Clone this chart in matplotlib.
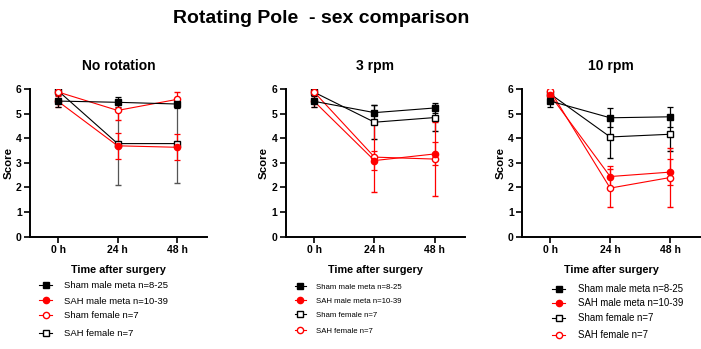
import numpy as np
import matplotlib.pyplot as plt
from matplotlib.lines import Line2D

plt.rcParams['font.family'] = ['Liberation Sans', 'DejaVu Sans']

# Time points and panel names
times = ['0 h', '24 h', '48 h']
panels = ['No rotation', '3 rpm', '10 rpm']

# Mean scores and SEM per panel (0 h, 24 h, 48 h)
sham_male = [[5.51, 5.46, 5.39], [5.50, 5.04, 5.23], [5.51, 4.83, 4.87]]
sham_male_err = [[0.23, 0.20, 0.15], [0.23, 0.30, 0.22], [0.23, 0.38, 0.40]]
sah_male = [[5.50, 3.69, 3.63], [5.50, 3.09, 3.36], [5.75, 2.44, 2.62]]
sah_male_err = [[0.23, 0.52, 0.53], [0.23, 0.38, 0.47], [0.22, 0.41, 0.52]]
# open square / open circle female series
sq_female = [[5.93, 3.78, 3.78], [5.87, 4.65, 4.84], [5.80, 4.05, 4.16]]
sq_female_err = [[0.10, 1.67, 1.60], [0.10, 0.70, 0.53], [0.10, 0.84, 0.68]]
ci_female = [[5.88, 5.13, 5.58], [5.88, 3.23, 3.15], [5.93, 1.97, 2.40]]
ci_female_err = [[0.10, 0.38, 0.31], [0.10, 1.43, 1.52], [0.10, 0.77, 1.20]]

# legend labels for the female series differ per panel
sq_label = ['SAH female n=7', 'Sham female n=7', 'Sham female n=7']
ci_label = ['Sham female n=7', 'SAH female n=7', 'SAH female n=7']

legend_size = [6.8, 5.6, 6.9]
axes_pos = [[0.0428, 0.3223, 0.2525, 0.4226],
            [0.4076, 0.3223, 0.2558, 0.4226],
            [0.7447, 0.3223, 0.2540, 0.4226]]
# legend row positions in pixels (left of handle, row centres)
legend_x = [39, 295, 552]
legend_rows = [[286, 301, 316, 334], [287, 301, 315, 331], [289, 303, 318, 335]]

fig = plt.figure(figsize=(7.01, 3.49), dpi=100)
fig.text(0.458, 0.948, 'Rotating Pole  - sex comparison', ha='center', va='center',
         fontsize=14, fontweight='bold')

x = np.arange(len(times))
for i, name in enumerate(panels):
    ax = fig.add_axes(axes_pos[i])
    common = dict(capsize=2.5, elinewidth=0.9, capthick=0.9, lw=0.8, ms=4.5)
    ax.errorbar(x, sq_female[i], yerr=sq_female_err[i], color='black', ecolor='#555555' if i == 0 else 'black',
                marker='s', mfc='white', mec='black', mew=1.0, **common)
    ax.errorbar(x, ci_female[i], yerr=ci_female_err[i], color='red', marker='o', mfc='white',
                mec='red', mew=1.0, **common)
    ax.errorbar(x, sah_male[i], yerr=sah_male_err[i], color='red', marker='o', mfc='red',
                mec='red', **common)
    ax.errorbar(x, sham_male[i], yerr=sham_male_err[i], color='black', marker='s', mfc='black',
                mec='black', **common)

    ax.set_xlim(-0.47, 2.5)
    ax.set_ylim(0, 6)
    ax.set_xticks(x)
    ax.set_xticklabels(times)
    ax.set_yticks(range(7))
    for s in ['top', 'right']:
        ax.spines[s].set_visible(False)
    for s in ['left', 'bottom']:
        ax.spines[s].set_linewidth(1.4)
    ax.tick_params(width=1.2, length=4, labelsize=7.5, pad=2)
    for lab in ax.get_xticklabels() + ax.get_yticklabels():
        lab.set_fontweight('bold')
    ax.set_title(name, fontsize=10, fontweight='bold', pad=14)
    ax.set_xlabel('Time after surgery', fontsize=7.8, fontweight='bold', labelpad=7)
    ax.set_ylabel('Score', fontsize=8.2, fontweight='bold', labelpad=2)

    h_sham = Line2D([], [], color='black', marker='s', mfc='black', ms=4.5, lw=0.8)
    h_sah = Line2D([], [], color='red', marker='o', mfc='red', ms=4.5, lw=0.8)
    h_sq = Line2D([], [], color='black', marker='s', mfc='white', ms=4.5, lw=0.8)
    h_ci = Line2D([], [], color='red', marker='o', mfc='white', ms=4.5, lw=0.8)
    if i == 0:
        entries = [(h_sham, 'Sham male meta n=8-25'), (h_sah, 'SAH male meta n=10-39'),
                   (h_ci, ci_label[i]), (h_sq, sq_label[i])]
    else:
        entries = [(h_sham, 'Sham male meta n=8-25'), (h_sah, 'SAH male meta n=10-39'),
                   (h_sq, sq_label[i]), (h_ci, ci_label[i])]
    for (h, t), row in zip(entries, legend_rows[i]):
        fig.legend([h], [t], loc='center left', frameon=False, fontsize=legend_size[i],
                   handlelength=1.4, handletextpad=1.3, borderpad=0, borderaxespad=0,
                   bbox_to_anchor=(legend_x[i] / 701, 1 - row / 349))

fig.savefig('out.png', dpi=100)
